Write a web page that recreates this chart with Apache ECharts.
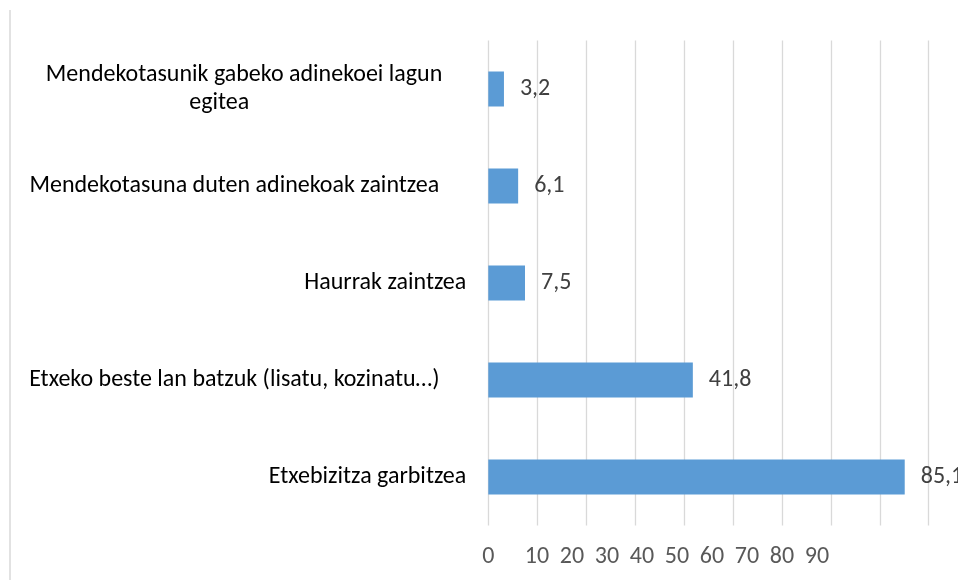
<!DOCTYPE html>
<html>
<head>
<meta charset="utf-8">
<script src="https://cdn.jsdelivr.net/npm/echarts@6/dist/echarts.min.js"></script>
<style>
    html, body { margin: 0; padding: 0; background: #fff; }
    #chart { width: 958px; height: 580px; }
</style>
</head>
<body>
<div id="chart"></div>
<script>
const categories = [
    'Mendekotasunik gabeko adinekoei lagun\negitea',
    'Mendekotasuna duten adinekoak zaintzea',
    'Haurrak zaintzea',
    'Etxeko beste lan batzuk (lisatu, kozinatu…)',
    'Etxebizitza garbitzea'
];
const values = [3.2, 6.1, 7.5, 41.8, 85.1];
const xTickLabels = [0, 10, 20, 30, 40, 50, 60, 70, 80, 90];

const font = 'Carlito, Lato, sans-serif';
const fontSize = 24;
const barColor = '#5b9bd5';
const gridColor = '#d9d9d9';

// the tick labels in the source sit on a tighter pitch than the gridlines,
// so they live on a second, hidden axis with its own scale
const labelAxisMin = -3.9;
const labelAxisMax = 121.9;

function commaDecimal(v) {
    return String(v).replace('.', ',');
}

// long names are centred in a wide box, short ones stay flush right
function categoryLabel(name) {
    const lines = name.split('\n');
    if (lines.length > 1) {
        return lines.map((line, i) => (i === 0 ? '{a|' : '{b|') + line + '}').join('\n');
    }
    if (name.length > 30) {
        return '{c|' + name + '}';
    }
    return name;
}

function richText(extra) {
    return Object.assign({
        color: '#000',
        fontFamily: font,
        fontSize: fontSize,
        lineHeight: 28
    }, extra);
}

const option = {
    animation: false,
    backgroundColor: '#fff',
    textStyle: { fontFamily: font },
    grid: {
        left: 488.3,
        right: 29.3,
        top: 40.5,
        bottom: 54.5,
        containLabel: false,
        outerBoundsMode: 'none'
    },
    xAxis: [{
        type: 'value',
        min: 0,
        max: 90,
        interval: 10,
        axisLine: { show: false },
        axisTick: { show: false },
        axisLabel: { show: false },
        splitLine: { show: true, lineStyle: { color: gridColor, width: 1.3 } }
    }, {
        type: 'value',
        position: 'bottom',
        min: labelAxisMin,
        max: labelAxisMax,
        axisLine: { show: false },
        axisTick: { show: false },
        splitLine: { show: false },
        axisLabel: {
            customValues: [labelAxisMin].concat(xTickLabels.slice(1)),
            formatter: v => v === labelAxisMin ? String(xTickLabels[0]) : String(v),
            showMinLabel: true,
            showMaxLabel: true,
            hideOverlap: false,
            color: '#595959',
            fontFamily: font,
            fontSize: fontSize,
            margin: 19
        }
    }],
    yAxis: {
        type: 'category',
        data: categories,
        inverse: true,
        axisLine: { show: false },
        axisTick: { show: false },
        splitLine: { show: false },
        axisLabel: {
            color: '#000',
            fontFamily: font,
            fontSize: fontSize,
            margin: 22,
            align: 'right',
            lineHeight: 28,
            formatter: categoryLabel,
            rich: {
                a: richText({ align: 'right', padding: [0, 24, 0, 0] }),
                b: richText({ align: 'right', padding: [0, 217, 0, 0] }),
                c: richText({ width: 464, align: 'center' })
            }
        }
    },
    series: [{
        type: 'bar',
        data: values,
        xAxisIndex: 0,
        barWidth: 35,
        itemStyle: { color: barColor },
        label: {
            show: true,
            position: 'right',
            distance: 16,
            color: '#404040',
            fontFamily: font,
            fontSize: fontSize,
            formatter: p => commaDecimal(p.value)
        }
    }],
    graphic: [{
        type: 'line',
        shape: { x1: 10, y1: 10, x2: 10, y2: 580 },
        style: { stroke: gridColor, lineWidth: 1.5 }
    }]
};

const chart = echarts.init(document.getElementById('chart'));
chart.setOption(option);
</script>
</body>
</html>
